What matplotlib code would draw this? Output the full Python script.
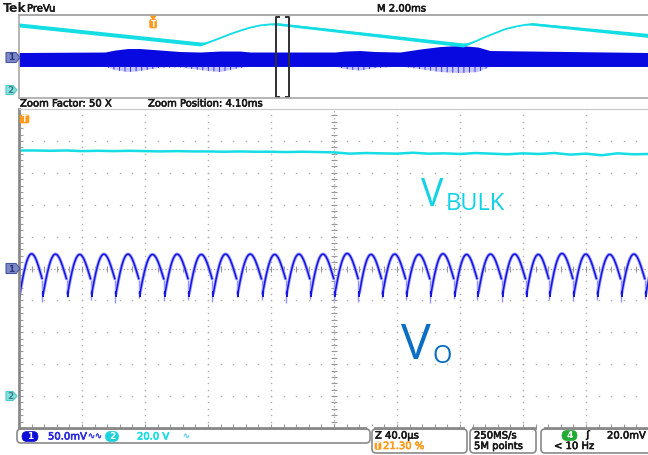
import numpy as np
import matplotlib.pyplot as plt
import matplotlib.patheffects as pe
from matplotlib.patches import Polygon, FancyBboxPatch, Rectangle
from matplotlib.transforms import IdentityTransform

plt.rcParams['font.family'] = ['DejaVu Sans']

W, H = 648, 455
CYAN = '#14dde4'
BLUE = '#1414e0'
HALO = '#a4a4ff'
ORANGE = '#ff9a1a'
GRID = '#b0b0b0'
PIX = IdentityTransform()

# ---- PreVu record (2.00 ms/div, time in ms from left edge, level in div) ----
record_ms = 20.0
trig_pct = 21.30
zoom_factor = 50
zoom_pos_ms = 4.10

prevu_cyan_t = [0.0, 5.75, 5.90, 6.13, 6.38, 6.70, 7.02, 7.33, 7.65, 7.97, 8.19,
                14.10, 14.25, 14.51, 14.79, 15.11, 15.43, 15.75, 16.06, 16.29, 20.0]
prevu_cyan_v = [3.80, 1.51, 1.59, 1.87, 2.23, 2.71, 3.13, 3.49, 3.76, 3.89, 3.92,
                1.39, 1.51, 1.87, 2.35, 2.83, 3.31, 3.61, 3.83, 3.92, 2.53]
prevu_cyan_w = [0.24, 0.24, 0.12, 0.05, 0.05, 0.05, 0.05, 0.05, 0.05, 0.07, 0.15,
                0.24, 0.12, 0.05, 0.05, 0.05, 0.05, 0.05, 0.05, 0.15, 0.24]

prevu_blue_t = [0, 2.73, 3.05, 3.46, 3.84, 4.48, 5.11, 5.75, 6.38, 7.02, 7.33,
                10.03, 10.35, 10.83, 11.30, 12.10, 12.73, 13.37, 14.00, 14.57, 14.95, 20.0]
prevu_blue_hi = [0.48, 0.54, 0.78, 0.96, 0.96, 0.78, 0.60, 0.54, 0.66, 0.66, 0.54,
                 0.54, 0.66, 0.72, 0.60, 0.54, 0.90, 1.20, 1.33, 1.14, 0.72, 0.48]
prevu_blue_lo = [-1.20] * 22
prevu_blue_out = [-1.20, -1.20, -1.63, -1.87, -1.75, -1.35, -1.30, -1.63, -1.87, -1.39, -1.20,
                  -1.20, -1.51, -1.69, -1.39, -1.20, -1.51, -1.87, -1.99, -1.87, -1.27, -1.20]

# ---- zoomed view (40 us/div, time in us around zoom centre, level in div) ----
bulk_t = list(range(-200, 201, 10))
bulk_v = [3.70, 3.70, 3.69, 3.70, 3.68, 3.69, 3.68, 3.69, 3.68, 3.67, 3.68,
          3.67, 3.67, 3.66, 3.67, 3.66, 3.66, 3.65, 3.66, 3.65, 3.64,
          3.60, 3.62, 3.61, 3.60, 3.63, 3.60, 3.61, 3.59, 3.62, 3.60,
          3.58, 3.61, 3.59, 3.62, 3.57, 3.60, 3.55, 3.61, 3.58, 3.59]

cusp_us = [-214.7, -199.4, -184.6, -169.1, -153.8, -138.4, -123.2, -107.3, -91.9, -76.6,
           -61.1, -45.3, -30.0, -14.6, 0.6, 16.1, 30.9, 46.2, 61.6, 76.8, 91.6,
           107.1, 122.3, 137.1, 152.4, 167.4, 182.7, 198.1, 213.4]
arch_peak = [0.45, 0.46, 0.45, 0.44, 0.45, 0.45, 0.44, 0.45, 0.44, 0.45, 0.45, 0.44, 0.45, 0.45,
             0.47, 0.44, 0.45, 0.44, 0.46, 0.44, 0.45, 0.45, 0.44, 0.47, 0.45, 0.44, 0.45, 0.45]
spike_low = [-1.0, -0.95, -1.05, -0.9, -1.0, -1.08, -0.92, -1.02, -0.98, -1.05, -0.9, -1.0, -1.08, -0.95,
             -1.02, -1.05, -0.92, -1.0, -1.08, -0.95, -1.0, -1.05, -0.9, -1.0, -1.02, -0.98, -1.05, -0.95, -1.0]
vo_start = -0.78
vo_end = -0.45


def txt(px, py, s, **kw):
    kw.setdefault('fontsize', 7.2)
    kw.setdefault('va', 'center')
    kw.setdefault('color', '#181818')
    if kw['fontsize'] < 10 and 'fontweight' not in kw:
        # scope font is a bit heavier than plain DejaVu
        kw['path_effects'] = [pe.withStroke(linewidth=0.45, foreground=kw['color'])]
    fig.text(px / W, 1 - py / H, s, **kw)


def rbox(x0, y0, x1, y1, r, face, edge, lw=1.0):
    # rounded box given in picture pixels (y from top)
    fig.patches.append(FancyBboxPatch((x0, H - y1), x1 - x0, y1 - y0,
                                      boxstyle='round,pad=0,rounding_size=%g' % r, transform=PIX,
                                      facecolor=face, edgecolor=edge, lw=lw))


def ch_marker(px, py, w, h, face, edge, label, lcol):
    pts = [(px, py - h / 2), (px + w - 4, py - h / 2), (px + w, py), (px + w - 4, py + h / 2), (px, py + h / 2)]
    fig.patches.append(Polygon([(a, H - b) for a, b in pts], closed=True, transform=PIX,
                               facecolor=face, edgecolor=edge, lw=0.8))
    txt(px + (w - 4) / 2 + 0.5, py + 0.5, label, ha='center', fontsize=6.5, color=lcol, fontweight='bold')


def pill(cx, cy, w, h, face, label):
    rbox(cx - w / 2, cy - h / 2, cx + w / 2, cy + h / 2, h / 2, face, face, 0.5)
    txt(cx, cy + 0.3, label, ha='center', fontsize=6.5, color='white', fontweight='bold')


def t_flag(x0, y0, w, h):
    rbox(x0, y0, x0 + w, y0 + h, 1.5, ORANGE, ORANGE, 0.5)
    txt(x0 + w / 2, y0 + h / 2 + 0.3, 'T', ha='center', fontsize=5.5, color='white', fontweight='bold')


fig = plt.figure(figsize=(W / 100, H / 100), dpi=100)

# ---------------- PreVu panel ----------------
ax_top = fig.add_axes([19 / W, 1 - 98 / H, (649 - 19) / W, (98 - 15) / H])
ax_top.set_xlim(0, record_ms)
ax_top.set_ylim(-5, 5)
ax_top.set_xticks([])
ax_top.set_yticks([])
for s in ax_top.spines.values():
    s.set_color('#a8a8a8')
    s.set_linewidth(1.2)

plt.rcParams['hatch.linewidth'] = 0.7
bt = np.array(prevu_blue_t)
ax_top.fill_between(bt, prevu_blue_lo, prevu_blue_out, facecolor='#c8c8ff', edgecolor='#3030ee',
                    hatch='|||', lw=0)
ax_top.fill_between(bt, prevu_blue_lo, prevu_blue_hi, color='#0808e0', lw=0)

ct = np.array(prevu_cyan_t)
cv = np.array(prevu_cyan_v)
cw = np.array(prevu_cyan_w)
ax_top.fill_between(ct, cv - cw, cv + cw, color=CYAN, lw=0)
ax_top.plot(ct, cv, color=CYAN, lw=1.1)

# zoom window bracket
trig_ms = record_ms * trig_pct / 100
zc = trig_ms + zoom_pos_ms
half = (record_ms / zoom_factor) / 2
for xe, d in ((zc - half, 1), (zc + half, -1)):
    ax_top.plot([xe + d * 0.08, xe, xe, xe + d * 0.08], [4.75, 4.75, -4.85, -4.85], color='#303030', lw=1.4)

# trigger marker on PreVu
tpx = 19 + trig_ms / record_ms * 630
fig.patches.append(Polygon([(tpx - 3, H - 15), (tpx + 3, H - 15), (tpx, H - 19.5)],
                           transform=PIX, facecolor=ORANGE, edgecolor=ORANGE))
t_flag(tpx - 3.5, 19.5, 7, 8.5)

ch_marker(6, 57.5, 14, 10, '#7b87c6', '#4a57a0', '1', '#2c3680')
ch_marker(6, 90, 11, 9, '#7fe4e4', '#50c8c8', '2', '#4a7a7a')

# ---------------- zoomed main panel ----------------
ax = fig.add_axes([19 / W, 1 - 428 / H, (649 - 19) / W, (428 - 109) / H])
ax.set_xlim(-200, 200)
ax.set_ylim(-5, 5)

xmin = np.arange(-200, 201, 8)
ymin = np.arange(-5, 5.01, 0.2)
for xm in np.arange(-160, 161, 40):
    if xm != 0:
        ax.plot([xm] * len(ymin), ymin, ls='none', marker='s', ms=1.0, color=GRID, mew=0)
for ym in range(-4, 5):
    if ym != 0:
        ax.plot(xmin, [ym] * len(xmin), ls='none', marker='s', ms=1.0, color=GRID, mew=0)
ax.axvline(0, color=GRID, lw=1, ls=(0, (1, 1.5)))
ax.axhline(0, color=GRID, lw=1, ls=(0, (1, 1.5)))
ax.plot([0] * len(ymin), ymin, ls='none', marker='_', ms=4, color='#999999', mew=0.8)
ax.plot(xmin, [0] * len(xmin), ls='none', marker='|', ms=4, color='#999999', mew=0.8)

ax.set_xticks(xmin)
ax.set_yticks(ymin)
ax.tick_params(direction='in', length=3, width=0.8, color='#999999', labelbottom=False, labelleft=False)
ax.spines['left'].set_color('#8a8a8a')
ax.spines['left'].set_linewidth(2)
ax.spines['bottom'].set_color('#8a8a8a')
ax.spines['bottom'].set_linewidth(2)
ax.spines['top'].set_color('#c8c8c8')
ax.spines['right'].set_visible(False)

# VBULK trace
ax.plot(bulk_t, bulk_v, color=CYAN, lw=1.8)

# Vo trace: rectified arches between cusps
xs, ys = [], []
for i in range(len(cusp_us) - 1):
    c0, c1 = cusp_us[i], cusp_us[i + 1]
    t = np.linspace(c0, c1 - 0.8, 40)
    u = (t - c0) / (c1 - c0)
    base = vo_start + (vo_end - vo_start) * u
    xs += list(t) + [np.nan]
    ys += list(base + (arch_peak[i] - base) * np.sin(np.pi * u)) + [np.nan]
cus = np.array(cusp_us)
ax.vlines(cus - 0.6, -0.35, spike_low, color='#9494ff', lw=1.0)
ax.plot(xs, ys, color=HALO, lw=2.4, solid_capstyle='round')
ax.plot(xs, ys, color=BLUE, lw=1.1)
ax.vlines(cus, -0.9, -0.72, color=BLUE, lw=1.4)

# markers on the bottom border
for mx in (367, 465, 537):
    fig.patches.append(Rectangle((mx, H - 430), 7, 4, transform=PIX, facecolor='white', edgecolor='none'))

ch_marker(6, 268.5, 14, 10, '#7b87c6', '#4a57a0', '1', '#2c3680')
ch_marker(6, 396, 11, 9, '#7fe4e4', '#50c8c8', '2', '#4a7a7a')
t_flag(20, 115, 9, 8)

# signal labels
txt(421, 206, 'V', fontsize=27, va='baseline', color='#12d2e6', family='Open Sans')
txt(446, 210, 'BULK', fontsize=17, va='baseline', color='#12d2e6', family='Open Sans')
txt(401, 359, 'V', fontsize=36, va='baseline', color='#0a6fc2', family='Open Sans')
txt(432, 363, 'O', fontsize=18, va='baseline', color='#0a6fc2', family='Open Sans')

# ---------------- header / status texts ----------------
txt(3, 8.5, 'Tek', fontsize=9, fontweight='bold')
txt(27, 8.5, 'PreVu')
txt(377, 8.5, 'M 2.00ms')
fig.lines.append(plt.Line2D([19, W], [H - 15, H - 15], transform=PIX, color='#a8a8a8', lw=1.2))
txt(20, 103.5, 'Zoom Factor: %d X' % zoom_factor)
txt(148, 103.5, 'Zoom Position: %.2fms' % zoom_pos_ms)

rbox(17, 429, 370, 443, 4, 'none', '#8a8a8a', 1.2)
pill(30, 436.5, 16, 10, '#0c0cd8', '1')
txt(48, 436.5, '50.0mV', color='#2828e0')
txt(88, 436, '∿∿', fontsize=6, color='#4a4ae8')
pill(112, 436.5, 13, 10, '#1ed2dc', '2')
txt(137, 436.5, '20.0 V', color=CYAN)
txt(183, 436, '∿', fontsize=6, color='#80d8f0')

rbox(372, 429, 467, 453, 4, 'none', '#8a8a8a', 1.2)
txt(375, 435.5, 'Z 40.0µs')
t_flag(375, 442, 6, 7.5)
txt(383, 446, '%.2f %%' % trig_pct, color=ORANGE)

rbox(470, 429, 536, 453, 4, 'none', '#8a8a8a', 1.2)
txt(474, 435.5, '250MS/s')
txt(474, 446, '5M points')

rbox(541, 429, 660, 453, 4, 'none', '#8a8a8a', 1.2)
pill(569.5, 435.5, 15, 10, '#22aa33', '4')
txt(585, 435.5, 'ʃ', fontweight='bold')
txt(607, 435.5, '20.0mV')
txt(554, 446, '< 10 Hz')

fig.savefig('out.png', dpi=100)
